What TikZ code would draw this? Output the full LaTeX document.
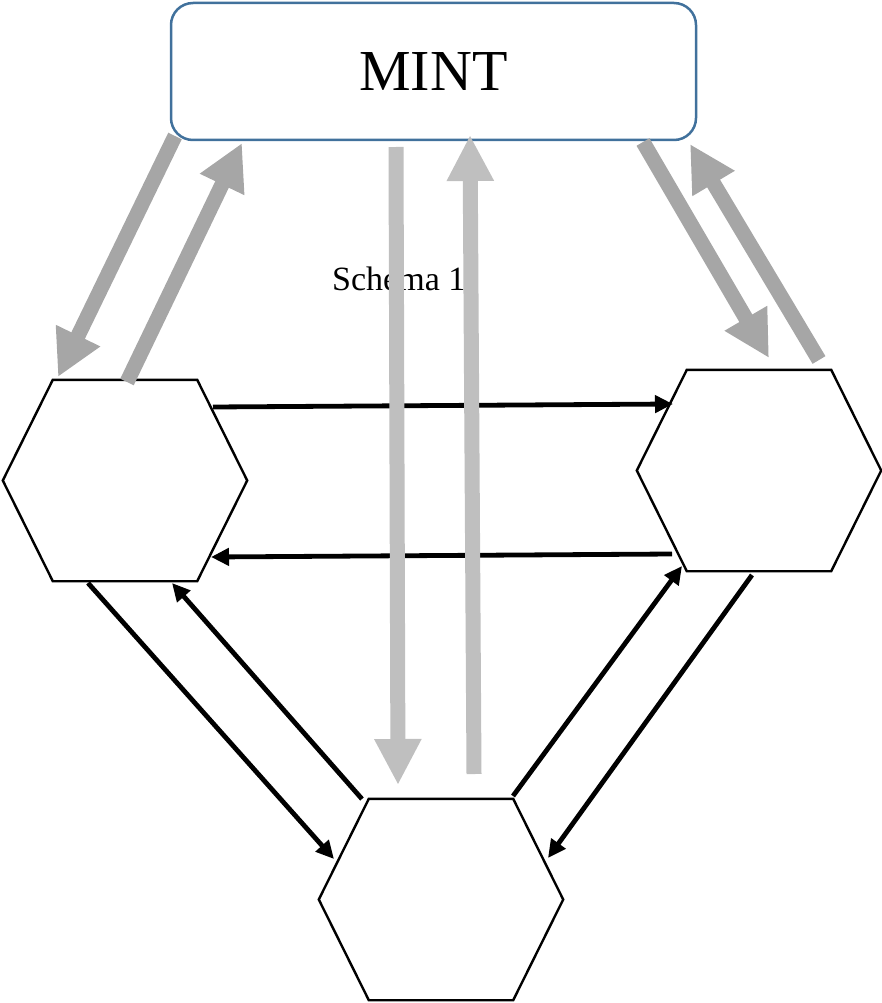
\documentclass[tikz,border=0pt]{standalone}
\usepackage{fontspec}
\setmainfont{Liberation Serif}
\usetikzlibrary{arrows.meta,calc}
\definecolor{mintblue}{HTML}{41719C}
\definecolor{darkgrayarrow}{HTML}{A6A6A6}
\definecolor{lightgrayarrow}{HTML}{BFBFBF}
\tikzset{
  mintbox/.style={draw=mintblue, line width=2.5pt, rounded corners=22pt, minimum width=525pt, minimum height=137pt, inner sep=0pt, font=\fontsize{58}{62}\selectfont},
  hexa/.style={minimum width=244pt, minimum height=201pt, inner sep=0pt, draw=none},
  hexline/.style={draw=black, line width=2.4pt, line join=miter},
  flow/.style={draw=black, line width=4.8pt, -{Triangle[length=18pt,width=17pt]}},
  bigdark/.style={draw=darkgrayarrow, line width=15pt, -{Triangle[length=46pt,width=46pt]}},
  biglight/.style={draw=lightgrayarrow, line width=15pt, -{Triangle[length=46pt,width=44pt]}},
  caption/.style={anchor=base west, inner sep=0pt, font=\fontsize{34}{37}\selectfont}
}
\newcommand\drawhexagon[1]{\draw[hexline] (#1.west) -- ([xshift=50pt]#1.north west) -- ([xshift=-50pt]#1.north east) -- (#1.east) -- ([xshift=-50pt]#1.south east) -- ([xshift=50pt]#1.south west) -- cycle;}
\begin{document}
\begin{tikzpicture}[x=1pt,y=-1pt]
\useasboundingbox (0,0) rectangle (882,1003);
% nodes
\node[mintbox] (mint) at (433.5,71.5) {\raisebox{-2pt}{MINT}};
\node[hexa] (L) at (125,480.5) {};
\node[hexa] (R) at (759,470.5) {};
\node[hexa] (B) at (441,899.5) {};
\drawhexagon{L}
\drawhexagon{R}
\drawhexagon{B}
% black connector end points
\coordinate (b1s) at (213,407);  \coordinate (b1e) at (673,404);
\coordinate (b2s) at (672,554);  \coordinate (b2e) at (211,557);
\coordinate (b3s) at (88,583);   \coordinate (b3e) at (334,859);
\coordinate (b4s) at (362,799);  \coordinate (b4e) at (172,583);
\coordinate (b5s) at (513,796);  \coordinate (b5e) at (682,566);
\coordinate (b6s) at (752,575);  \coordinate (b6e) at (548,858);
\draw[flow] (b1s) -- (b1e);
\draw[flow] (b2s) -- (b2e);
\draw[flow] (b3s) -- (b3e);
\draw[flow] (b4s) -- (b4e);
\draw[flow] (b5s) -- (b5e);
\draw[flow] (b6s) -- (b6e);
% caption
\node[caption] (cap) at (332,290) {Schema 1};
% gray connector end points
\coordinate (gl1s) at (175,136); \coordinate (gl1e) at (58,377);
\coordinate (gl2s) at (127,382); \coordinate (gl2e) at (242,143);
\coordinate (gr1s) at (643,142); \coordinate (gr1e) at (769,358);
\coordinate (gr2s) at (819,360); \coordinate (gr2e) at (690,144);
\coordinate (gc1s) at (396,147); \coordinate (gc1e) at (398,785);
\coordinate (gc2s) at (474,774); \coordinate (gc2e) at (470,135);
\draw[bigdark] (gl1s) -- (gl1e);
\draw[bigdark] (gl2s) -- (gl2e);
\draw[bigdark] (gr1s) -- (gr1e);
\draw[bigdark] (gr2s) -- (gr2e);
\draw[biglight] (gc1s) -- (gc1e);
\draw[biglight] (gc2s) -- (gc2e);
\end{tikzpicture}
\end{document}
